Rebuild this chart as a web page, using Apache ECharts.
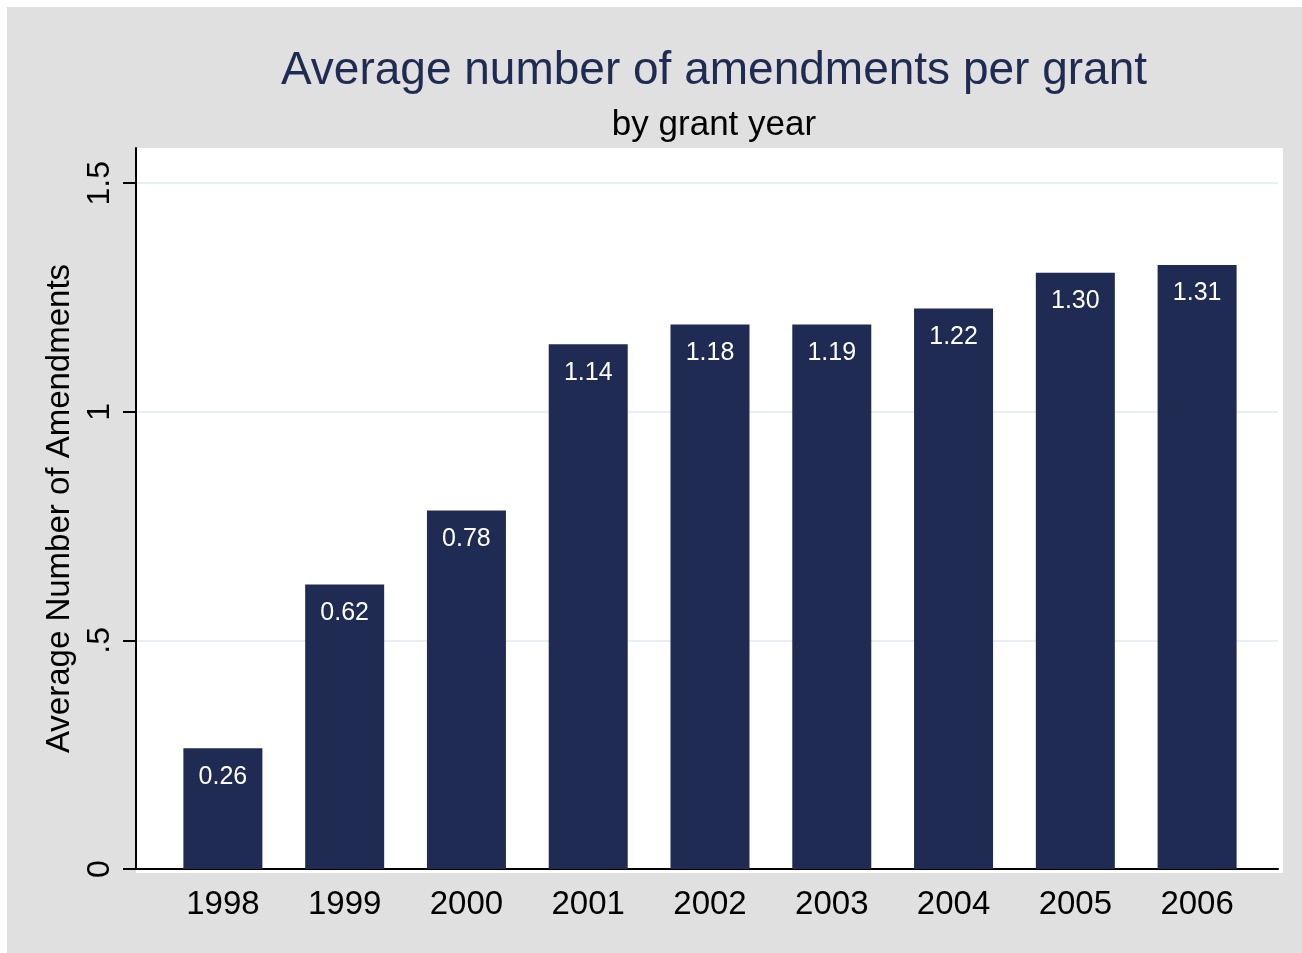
<!DOCTYPE html>
<html>
<head>
<meta charset="utf-8">
<script src="https://cdn.jsdelivr.net/npm/echarts@6/dist/echarts.min.js"></script>
<style>html,body{margin:0;padding:0;background:#fff}#c{width:1302px;height:953px}</style>
</head>
<body>
<div id="c"></div>
<script>
var years = ['1998','1999','2000','2001','2002','2003','2004','2005','2006'];
var barHeights = [0.264, 0.622, 0.784, 1.148, 1.191, 1.191, 1.226, 1.304, 1.321];
var barLabels = ['0.26','0.62','0.78','1.14','1.18','1.19','1.22','1.30','1.31'];
var yTicks = [0, 0.5, 1, 1.5];
var yTickLabels = {0:'0', 0.5:'.5', 1:'1', 1.5:'1.5'};

var FONT = '"Liberation Sans", Arial, sans-serif';
var NAVY = '#1f2b52';
var YMAX = 1.577;

var chart = echarts.init(document.getElementById('c'), null, {renderer:'canvas'});
chart.setOption({
  backgroundColor: '#ffffff',
  animation: false,
  graphic: [
    {type:'rect', z:-10, shape:{x:7, y:7, width:1295, height:946}, style:{fill:'#e0e0e0'}, silent:true},
    {type:'rect', z:-9, shape:{x:136, y:148, width:1147, height:725}, style:{fill:'#ffffff'}, silent:true}
  ],
  title: [
    {text:'Average number of amendments per grant', left:709, top:43, textAlign:'center',
     textStyle:{fontFamily:FONT, fontSize:46, fontWeight:'normal', color:NAVY}},
    {text:'by grant year', left:709, top:103, textAlign:'center',
     textStyle:{fontFamily:FONT, fontSize:35, fontWeight:'normal', color:'#000'}}
  ],
  grid: [
    {left:136, right:24, top:148, bottom:84},
    {left:162, right:44, top:148, bottom:84}
  ],
  xAxis: [
    {gridIndex:0, type:'value', min:0, max:1, axisLine:{show:true, onZero:false, lineStyle:{color:'#000', width:2}},
     axisTick:{show:false}, axisLabel:{show:false}, splitLine:{show:false}},
    {gridIndex:1, type:'category', data:years, axisLine:{show:false}, axisTick:{show:false},
     axisLabel:{fontFamily:FONT, fontSize:33, color:'#000', margin:19}, splitLine:{show:false}}
  ],
  yAxis: [
    {gridIndex:0, type:'value', min:0, max:YMAX, interval:0.5,
     name:'Average Number of Amendments', nameLocation:'middle', nameGap:57, nameRotate:90,
     nameTextStyle:{fontFamily:FONT, fontSize:33, color:'#000'},
     axisLine:{show:true, lineStyle:{color:'#000', width:2}},
     axisTick:{show:true, length:13, lineStyle:{color:'#000', width:2}, customValues:yTicks},
     axisLabel:{fontFamily:FONT, fontSize:32, color:'#000', rotate:90, margin:20, customValues:yTicks,
       formatter:function(v){ return yTickLabels[v] !== undefined ? yTickLabels[v] : ''; }},
     splitLine:{show:true, lineStyle:{color:'#e8eef1', width:2}}},
    {gridIndex:1, type:'value', min:0, max:YMAX, show:false, splitLine:{show:false}}
  ],
  series: [{
    type:'bar', xAxisIndex:1, yAxisIndex:1, data:barHeights, barWidth:79,
    itemStyle:{color:NAVY},
    label:{show:true, position:'insideTop', distance:16, color:'#fff', fontFamily:FONT, fontSize:25,
      formatter:function(p){ return barLabels[p.dataIndex]; }}
  }]
});
</script>
</body>
</html>
